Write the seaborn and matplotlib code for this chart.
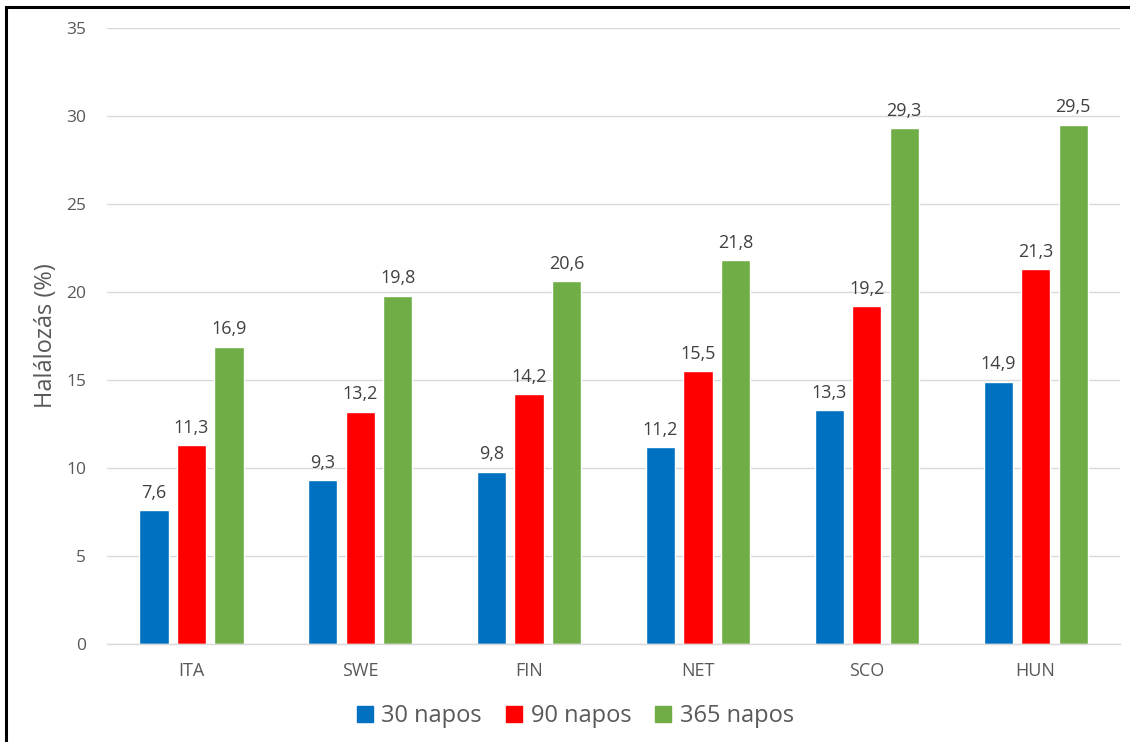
import matplotlib
matplotlib.use("Agg")
import matplotlib.pyplot as plt
import matplotlib.patches as mpatches
import seaborn as sns
import pandas as pd

countries = ["ITA", "SWE", "FIN", "NET", "SCO", "HUN"]
series_names = ["30 napos", "90 napos", "365 napos"]
d30 = [7.6, 9.3, 9.8, 11.2, 13.3, 14.9]
d90 = [11.3, 13.2, 14.2, 15.5, 19.2, 21.3]
d365 = [16.9, 19.8, 20.6, 21.8, 29.3, 29.5]
colors = ["#0070C0", "#FF0000", "#70AD47"]

rows = []
for name, vals in zip(series_names, [d30, d90, d365]):
    for c, v in zip(countries, vals):
        rows.append({"country": c, "series": name, "value": v})
df = pd.DataFrame(rows)

sns.set_theme(style="white")
plt.rcParams["font.family"] = ["Open Sans", "DejaVu Sans"]

fig = plt.figure(figsize=(11.3, 7.42), dpi=100)
ax = fig.add_axes([0.0947, 0.132, 0.8965, 0.8303])

sns.barplot(data=df, x="country", y="value", hue="series",
            order=countries, hue_order=series_names, palette=colors,
            width=0.666, gap=0.22, saturation=1, legend=False, ax=ax,
            errorbar=None)

for container in ax.containers:
    labels = [f"{b.get_height():.1f}".replace(".", ",") for b in container]
    ax.bar_label(container, labels=labels, padding=6, fontsize=13,
                 color="#404040")

ax.set_ylim(0, 35)
ax.set_yticks(range(0, 36, 5))
ax.set_xlim(-0.5, len(countries) - 0.5)
ax.yaxis.grid(True, color="#D9D9D9", linewidth=1)
ax.set_axisbelow(True)
for s in ["top", "right", "left"]:
    ax.spines[s].set_visible(False)
ax.spines["bottom"].set_color("#D9D9D9")
ax.spines["bottom"].set_linewidth(1)
ax.tick_params(axis="both", length=0, colors="#595959")
ax.tick_params(axis="y", labelsize=12.5, pad=15)
ax.tick_params(axis="x", labelsize=13, pad=13)
ax.set_xlabel("")
ax.set_ylabel("Halálozás (%)", fontsize=17, color="#595959", labelpad=6)

handles = [mpatches.Patch(color=c, label=n) for c, n in zip(colors, series_names)]
fig.legend(handles=handles, loc="center", bbox_to_anchor=(0.509, 0.035),
           ncol=3, frameon=False, fontsize=17, handlelength=0.7,
           handleheight=0.7, handletextpad=0.35, columnspacing=1.0,
           labelcolor="#595959")

# chart frame
frame = mpatches.Rectangle((6 / 1130, -0.1), 1.2, 1 - 7 / 742 + 0.1,
                           transform=fig.transFigure, fill=False,
                           edgecolor="black", linewidth=2.2)
fig.patches.append(frame)

fig.savefig("out.png", dpi=100, facecolor="white")
